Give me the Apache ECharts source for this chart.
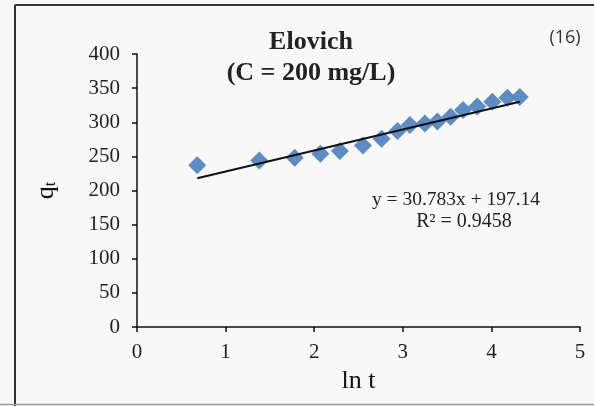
<!DOCTYPE html>
<html>
<head>
<meta charset="utf-8">
<script src="https://cdn.jsdelivr.net/npm/echarts@6/dist/echarts.min.js"></script>
<style>html,body{margin:0;padding:0;background:#f8f8f8;}#c{width:594px;height:406px;}</style>
</head>
<body>
<div id="c"></div>
<script>
// ln t values
const lnT = [0.68, 1.38, 1.78, 2.07, 2.29, 2.55, 2.76, 2.94, 3.08, 3.25, 3.39, 3.54, 3.68, 3.84, 4.01, 4.18, 4.32];
// q_t values
const qt = [237, 244, 248, 254, 258, 266, 276, 287, 296, 298, 301, 308, 318, 323, 330, 336, 337];
// linear trendline (from the chart's equation)
const slope = 30.783;
const intercept = 197.14;
const xTicks = [0, 1, 2, 3, 4, 5];
const yTicks = [0, 50, 100, 150, 200, 250, 300, 350, 400];

const pts = lnT.map((x, i) => [x, qt[i]]);
const x0 = lnT[0], x1 = lnT[lnT.length - 1];
const trend = [[x0, slope * x0 + intercept], [x1, slope * x1 + intercept]];

const chart = echarts.init(document.getElementById('c'), null, {renderer: 'canvas'});
const serif = '"Liberation Serif", "DejaVu Serif", serif';
chart.setOption({
  backgroundColor: '#f8f8f8',
  animation: false,
  grid: {left: 137, right: 14, top: 54, bottom: 79},
  xAxis: {
    type: 'value', min: xTicks[0], max: xTicks[xTicks.length - 1], interval: 1,
    name: 'ln t', nameLocation: 'middle', nameGap: 41,
    nameTextStyle: {fontFamily: serif, fontSize: 26, color: '#111'},
    axisLine: {onZero: false, lineStyle: {color: '#111', width: 1.5}},
    axisTick: {show: true, length: 5, lineStyle: {color: '#111', width: 1.5}},
    axisLabel: {fontFamily: serif, fontSize: 21, color: '#222', margin: 15},
    splitLine: {show: false}
  },
  yAxis: {
    type: 'value', min: yTicks[0], max: yTicks[yTicks.length - 1], interval: 50,
    name: 'q{sub|t}', nameLocation: 'middle', nameGap: 78, nameRotate: 90,
    nameTextStyle: {fontFamily: serif, fontSize: 26, color: '#111',
      rich: {sub: {fontFamily: serif, fontSize: 16, color: '#111', verticalAlign: 'bottom', padding: [10, 0, 0, 0]}}},
    axisLine: {show: true, lineStyle: {color: '#111', width: 1.5}},
    axisTick: {show: true, length: 5, lineStyle: {color: '#111', width: 1.5}},
    axisLabel: {fontFamily: serif, fontSize: 21, color: '#222', margin: 17},
    splitLine: {show: false}
  },
  series: [
    {
      type: 'scatter', data: pts, symbol: 'diamond', symbolSize: 18,
      itemStyle: {color: '#4f81bd', opacity: 0.92}, z: 2
    },
    {
      type: 'line', data: trend, symbol: 'none',
      lineStyle: {color: '#111', width: 2}, z: 3
    }
  ],
  graphic: [
    {type: 'line', shape: {x1: 15, y1: 5, x2: 594, y2: 5}, style: {stroke: '#333', lineWidth: 2}},
    {type: 'line', shape: {x1: 15, y1: 5, x2: 15, y2: 406}, style: {stroke: '#333', lineWidth: 2}},
    {type: 'line', shape: {x1: 0, y1: 404.5, x2: 594, y2: 404.5}, style: {stroke: '#999', lineWidth: 1.5}},
    {type: 'text', x: 311, y: 42, style: {text: 'Elovich', font: 'bold 26px ' + serif, fill: '#222', textAlign: 'center', textVerticalAlign: 'middle'}},
    {type: 'text', x: 311, y: 73, style: {text: '(C = 200 mg/L)', font: 'bold 26px ' + serif, fill: '#222', textAlign: 'center', textVerticalAlign: 'middle'}},
    {type: 'text', x: 565, y: 38, style: {text: '(16)', font: '18px "Open Sans", sans-serif', fill: '#333', textAlign: 'center', textVerticalAlign: 'middle'}},
    {type: 'text', x: 456, y: 200, style: {text: 'y = 30.783x + 197.14', font: '19.5px ' + serif, fill: '#222', textAlign: 'center', textVerticalAlign: 'middle'}},
    {type: 'text', x: 464, y: 222, style: {text: 'R² = 0.9458', font: '20px ' + serif, fill: '#222', textAlign: 'center', textVerticalAlign: 'middle'}}
  ]
});
</script>
</body>
</html>
